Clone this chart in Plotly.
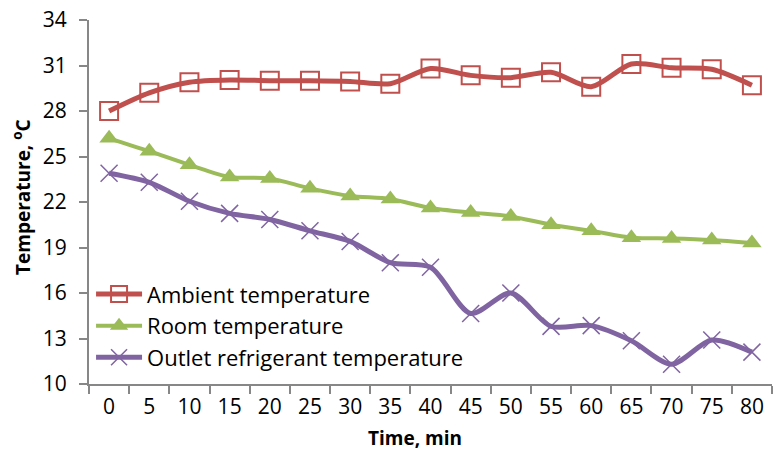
import plotly.graph_objects as go

time_min = ["0", "5", "10", "15", "20", "25", "30", "35", "40", "45", "50", "55", "60", "65", "70", "75", "80"]
ambient = [28.0, 29.2, 29.9, 30.05, 30.0, 30.0, 29.95, 29.8, 30.8, 30.35, 30.2, 30.55, 29.6, 31.1, 30.85, 30.75, 29.7]
room = [26.2, 25.35, 24.45, 23.65, 23.55, 22.9, 22.4, 22.2, 21.6, 21.3, 21.05, 20.5, 20.1, 19.65, 19.6, 19.5, 19.3]
outlet = [23.9, 23.3, 22.05, 21.25, 20.85, 20.1, 19.4, 18.0, 17.7, 14.65, 16.0, 13.8, 13.85, 12.85, 11.3, 12.9, 12.1]
y_ticks = [10, 13, 16, 19, 22, 25, 28, 31, 34]

FONT = "Open Sans"

fig = go.Figure()
fig.add_trace(go.Scatter(
    x=time_min, y=ambient, name="Ambient temperature", mode="lines+markers",
    line=dict(color="#C0504D", width=5, shape="spline", smoothing=0.8),
    marker=dict(symbol="square-open", size=18, color="#C0504D", line=dict(width=2)),
))
fig.add_trace(go.Scatter(
    x=time_min, y=room, name="Room temperature", mode="lines+markers",
    line=dict(color="#9BBB59", width=4, shape="spline", smoothing=0.8),
    marker=dict(symbol="triangle-up", size=17, color="#9BBB59"),
))
fig.add_trace(go.Scatter(
    x=time_min, y=outlet, name="Outlet refrigerant temperature", mode="lines+markers",
    line=dict(color="#8064A2", width=5, shape="spline", smoothing=0.8),
    marker=dict(symbol="x-thin", size=17, color="#8064A2", line=dict(width=1.5, color="#8064A2")),
))

fig.update_layout(
    width=773, height=450,
    margin=dict(l=89, r=1, t=20, b=66),
    paper_bgcolor="white", plot_bgcolor="white",
    font=dict(family=FONT, size=22, color="black"),
    showlegend=True,
    legend=dict(x=0.003, y=0.16, xanchor="left", yanchor="middle",
                bgcolor="rgba(0,0,0,0)", font=dict(size=22, family=FONT, color="black"),
                itemwidth=46, tracegroupgap=0),
    xaxis=dict(
        type="category", range=[-0.5, 16.5], showline=True, linecolor="#878787", linewidth=2,
        ticks="outside", tickson="boundaries", ticklen=8, tickcolor="#878787", tickwidth=1.5,
        showgrid=False, zeroline=False, tickfont=dict(size=21, family=FONT, color="black"),
        ticklabelstandoff=3,
    ),
    yaxis=dict(
        range=[10, 34], tickvals=y_ticks, showline=True, linecolor="#878787", linewidth=2,
        ticks="outside", ticklen=8, tickcolor="#878787", tickwidth=1.5,
        showgrid=False, zeroline=False, tickfont=dict(size=21, family=FONT, color="black"),
        ticklabelstandoff=8,
    ),
    annotations=[
        dict(text="<b>Time, min</b>", x=0.477, y=-0.148, xref="paper", yref="paper",
             showarrow=False, font=dict(size=19, family=FONT, color="black"),
             xanchor="center", yanchor="middle"),
        dict(text="<b>Temperature, <sup>o</sup>C</b>", x=-0.098, y=0.514, xref="paper", yref="paper",
             showarrow=False, font=dict(size=19, family=FONT, color="black"), textangle=-90,
             xanchor="center", yanchor="middle"),
    ],
)

fig.write_html("out.html")
